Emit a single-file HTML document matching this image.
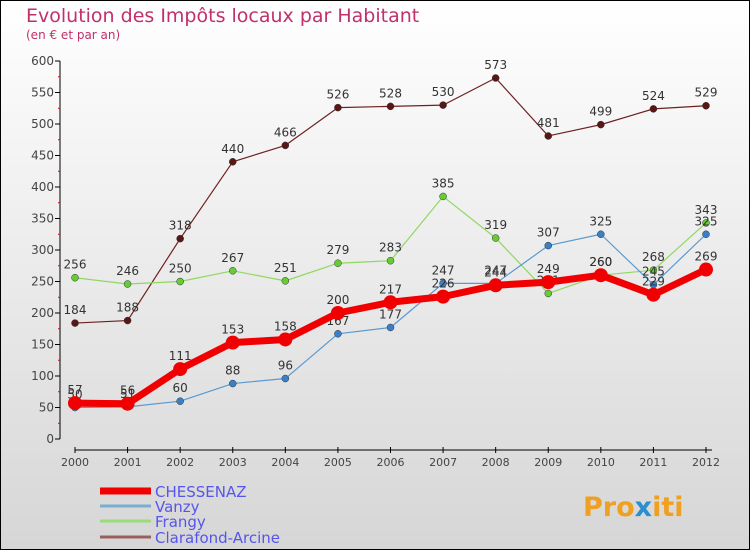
<!DOCTYPE html>
<html><head><meta charset="utf-8"><style>
body{margin:0;}
svg{display:block;font-family:"DejaVu Sans","Liberation Sans",sans-serif;}
</style></head><body>
<svg id="c" width="750" height="550" xmlns="http://www.w3.org/2000/svg">
<defs><linearGradient id="bg" x1="0" y1="0" x2="0" y2="1"><stop offset="0" stop-color="#ffffff"/><stop offset="1" stop-color="#d6d6d6"/></linearGradient></defs>
<rect x="0.5" y="0.5" width="749" height="549" fill="url(#bg)" stroke="#000"/>
<text x="26" y="22" font-size="19" fill="#c0306a">Evolution des Impôts locaux par Habitant</text>
<text x="26" y="39" font-size="12" fill="#c0306a">(en € et par an)</text>
<g id="axes"></g><g id="series"></g><g id="legend"></g>
<text x="583" y="516" font-size="27" font-weight="bold" fill="#f0a020">Pro<tspan fill="#2a8fd0">x</tspan>iti</text>
</svg>
<script>
const years=["2000","2001","2002","2003","2004","2005","2006","2007","2008","2009","2010","2011","2012"];
const yTicks=[0,50,100,150,200,250,300,350,400,450,500,550,600];
const chessenaz=[57,56,111,153,158,200,217,226,244,249,260,229,269];
const vanzy=[50,51,60,88,96,167,177,247,247,307,325,245,325];
const frangy=[256,246,250,267,251,279,283,385,319,231,260,268,343];
const clarafond=[184,188,318,440,466,526,528,530,573,481,499,524,529];
const names=["CHESSENAZ","Vanzy","Frangy","Clarafond-Arcine"];
const NS="http://www.w3.org/2000/svg";
const X=i=>75+i*(631/12), Y=v=>439-v*(378/600);
function mk(t,a,p){const e=document.createElementNS(NS,t);for(const k in a)e.setAttribute(k,a[k]);p.appendChild(e);return e;}
const ax=document.getElementById('axes');
let l=mk('line',{x1:60,y1:Y(600),x2:60,y2:Y(0),stroke:'#000'},ax);


yTicks.forEach(v=>{
 const t=mk('line',{x1:55,y1:Y(v),x2:60,y2:Y(v),stroke:'#000'},ax);
 
 
 if(v<600){const m=mk('line',{x1:58,y1:Y(v+25),x2:60,y2:Y(v+25),stroke:'#e00'},ax);
 
 }
 const tx=mk('text',{x:54,y:Y(v)+4,'font-size':12,fill:'#444','text-anchor':'end'},ax);tx.textContent=v;
 
 
});
l=mk('line',{x1:75,y1:450,x2:712,y2:450,stroke:'#000'},ax);


years.forEach((y,i)=>{
 const t=mk('line',{x1:X(i),y1:447,x2:X(i),y2:453,stroke:'#000'},ax);
 
 
 const tx=mk('text',{x:X(i),y:466,'font-size':11,fill:'#444','text-anchor':'middle'},ax);tx.textContent=y;
 
 
});
const sg=document.getElementById('series');
const defs=[[clarafond,'#6e2020','#5a1515',1.2,3.5,'clarafond'],[frangy,'#90d860','#66cc33',1.2,3.5,'frangy'],[vanzy,'#5a9ad0','#3a80c8',1.2,3.5,'vanzy'],[chessenaz,'#f00000','#f00000',7,7,'chessenaz']];
defs.forEach(([d,c,pc,w,r,n])=>{
 const p=mk('polyline',{points:d.map((v,i)=>X(i)+','+Y(v)).join(' '),fill:'none',stroke:c,'stroke-width':w,'stroke-linejoin':'round'},sg);
 
 
 d.forEach((v,i)=>{
  const ci=mk('circle',{cx:X(i),cy:Y(v),r:r,fill:pc,stroke:'#333','stroke-width':n=='chessenaz'?0:0.5},sg);
  
  
  const tx=mk('text',{x:X(i),y:Y(v)-9,'font-size':12,fill:'#333','text-anchor':'middle'},sg);tx.textContent=v;
  
  
 });
});
const lg=document.getElementById('legend');
const lc=[['#f00000',7],['#7aaed0',3],['#99dd77',3],['#9a6060',3]];
const ly=[491,506,521,537];
names.forEach((n,i)=>{
 const ln=mk('line',{x1:100,y1:ly[i],x2:151,y2:ly[i],stroke:lc[i][0],'stroke-width':lc[i][1]},lg);
 
 
 const tx=mk('text',{x:155,y:ly[i]+6,'font-size':15,fill:'#5555ee'},lg);tx.textContent=n;
 
 
});
</script>
</body></html>
